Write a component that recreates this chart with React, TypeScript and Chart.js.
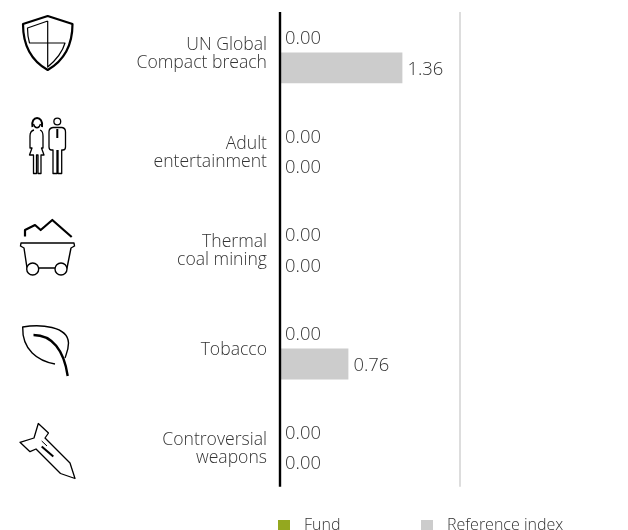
import React, { useEffect, useRef } from "react";
import { Chart, registerables } from "chart.js";

Chart.register(...registerables);

const categories: string[][] = [
  ["UN Global", "Compact breach"],
  ["Adult", "entertainment"],
  ["Thermal", "coal mining"],
  ["Tobacco"],
  ["Controversial", "weapons"],
];
const fundValues = [0, 0, 0, 0, 0];
const referenceValues = [1.36, 0, 0, 0.76, 0];
const seriesNames = ["Fund", "Reference index"];
const seriesColors = ["#94a81f", "#cccccc"];
const valueMax = 2;

const FONT = '"Open Sans", sans-serif';
const TEXT = "#333333";
const LABEL_NUDGE = 1.5;

const chartExtras = {
  id: "chartExtras",
  afterDatasetsDraw(chart: any) {
    const { ctx, scales } = chart;
    const x = scales.x;
    const y = scales.y;
    const top = y.getPixelForValue(-0.41);
    const bottom = y.getPixelForValue(4.4);
    ctx.save();
    // reference gridline at axis maximum, then the zero axis
    ctx.strokeStyle = "#dddddd";
    ctx.lineWidth = 2;
    ctx.beginPath();
    ctx.moveTo(x.getPixelForValue(valueMax), top);
    ctx.lineTo(x.getPixelForValue(valueMax), bottom);
    ctx.stroke();
    ctx.strokeStyle = "#000000";
    ctx.lineWidth = 2.4;
    ctx.beginPath();
    ctx.moveTo(x.getPixelForValue(0), top);
    ctx.lineTo(x.getPixelForValue(0), bottom);
    ctx.stroke();
    // value labels
    ctx.font = `300 18.4px ${FONT}`;
    ctx.fillStyle = TEXT;
    ctx.textAlign = "left";
    ctx.textBaseline = "middle";
    chart.data.datasets.forEach((ds: any, i: number) => {
      chart.getDatasetMeta(i).data.forEach((bar: any, j: number) => {
        ctx.fillText(ds.data[j].toFixed(2), bar.x + 5, bar.y + LABEL_NUDGE);
      });
    });
    // legend
    const legendStart = [278, 421];
    ctx.font = `300 16px ${FONT}`;
    chart.data.datasets.forEach((ds: any, i: number) => {
      ctx.fillStyle = ds.backgroundColor;
      ctx.fillRect(legendStart[i], 520, 12, 12);
      ctx.fillStyle = TEXT;
      ctx.fillText(ds.label, legendStart[i] + 26, 525);
    });
    ctx.restore();
  },
};

const Icons = () => (
  <svg
    width={628}
    height={530}
    style={{ position: "absolute", left: 0, top: 0, pointerEvents: "none" }}
    fill="none"
    stroke="#000"
    strokeLinejoin="round"
  >
    {/* shield */}
    <path strokeWidth={2.2} d="M47.7 16 L23 24 C23 45 30 60 47.7 70 C65 60 72.5 45 72.5 24 Z" />
    <path strokeWidth={1.2} d="M47.7 21 L27.5 28 C27.5 33 28 38 29.5 43 H65 C62.5 52 56 60 47.7 67 V21" />
    {/* people */}
    <g strokeWidth={1.3}>
      <circle cx={57.3} cy={121.5} r={3.4} />
      <path d="M53 127.5 H62 Q65.5 128 65.5 132 V147 Q65.5 150 63 150 H61.7 V173.5 H58 V150 M57 150 V173.5 H53 V150 H51.5 Q49 150 49 147 V132 Q49 128 53 127.5" />
      <path strokeWidth={2} d="M57.3 129 V138" />
      <path strokeWidth={2} d="M32.5 127 C30 115 44 115 42 127" />
      <path d="M33.5 124 C35 129 39 129 40.5 124 M34 130 Q30 131 30 136 V148 H32 L29.5 155 H33.5 V173.5 H36.5 V155 H38 V173.5 H41 V155 H44 L41.5 148 H43 V136 Q43 131 40 130" />
    </g>
    {/* mine cart */}
    <path strokeWidth={2.2} d="M25 236.5 V230 L35 225 L40.7 230 L52.3 220 L71.7 237" />
    <path strokeWidth={1.4} d="M21 243 H74 L74.5 246 L71 248 L67 268 H27 L24 248 L20.5 246 Z" />
    <circle cx={32.7} cy={269} r={6} fill="#fff" strokeWidth={1.4} />
    <circle cx={61} cy={269} r={6} fill="#fff" strokeWidth={1.4} />
    {/* leaf */}
    <path strokeWidth={1.4} d="M55 364 C38 361 22 350 22.7 327 C40 324 68 326 68.5 343 C68.5 350 66 355 65 358" />
    <path strokeWidth={2.4} d="M33.5 335 C52 335 64 350 67.7 376" />
    {/* missile */}
    <path strokeWidth={1.3} d="M38.3 423.5 L48.5 433 L45 438 L70 463 L75 478.5 L60.5 473.5 L36 449 L30 451.7 L20 442.3 L34 438 Z" />
    <path strokeWidth={2} d="M41.7 446.5 L53.3 456.5" />
    <path strokeWidth={1} d="M41.7 441 L47 446" />
  </svg>
);

export default function App() {
  const canvasRef = useRef<HTMLCanvasElement>(null);

  useEffect(() => {
    document.body.style.margin = "0";
    const chart = new Chart(canvasRef.current as HTMLCanvasElement, {
      type: "bar",
      data: {
        labels: categories,
        datasets: [
          { label: seriesNames[0], data: fundValues, backgroundColor: seriesColors[0] },
          { label: seriesNames[1], data: referenceValues, backgroundColor: seriesColors[1] },
        ],
      },
      options: {
        indexAxis: "y",
        animation: false,
        responsive: false,
        devicePixelRatio: 1,
        layout: { padding: { top: 3.15, bottom: 33.35, right: 168, left: 0 } },
        datasets: { bar: { categoryPercentage: 0.625, barPercentage: 1 } },
        plugins: { legend: { display: false }, tooltip: { enabled: false } },
        scales: {
          x: { min: 0, max: valueMax, display: false },
          y: {
            grid: { display: false },
            border: { display: false },
            afterFit(scale: any) {
              scale.width = 280;
              scale.paddingTop = 0;
              scale.paddingBottom = 0;
              if (!scale.__nudged) {
                scale.__nudged = true;
                const drawLabels = scale.drawLabels;
                scale.drawLabels = function (area: any) {
                  const c = this.ctx;
                  c.save();
                  c.translate(0, LABEL_NUDGE);
                  drawLabels.call(this, area);
                  c.restore();
                };
              }
            },
            ticks: {
              padding: 5,
              color: TEXT,
              font: { family: FONT, size: 17.6, weight: "300", lineHeight: 1.03 },
            },
          },
        },
      },
      plugins: [chartExtras],
    } as any);
    return () => chart.destroy();
  }, []);

  return (
    <div style={{ position: "fixed", left: 0, top: 0, width: 628, height: 530, overflow: "hidden", background: "#fff" }}>
      <canvas ref={canvasRef} width={628} height={530} style={{ display: "block" }} />
      <Icons />
    </div>
  );
}
